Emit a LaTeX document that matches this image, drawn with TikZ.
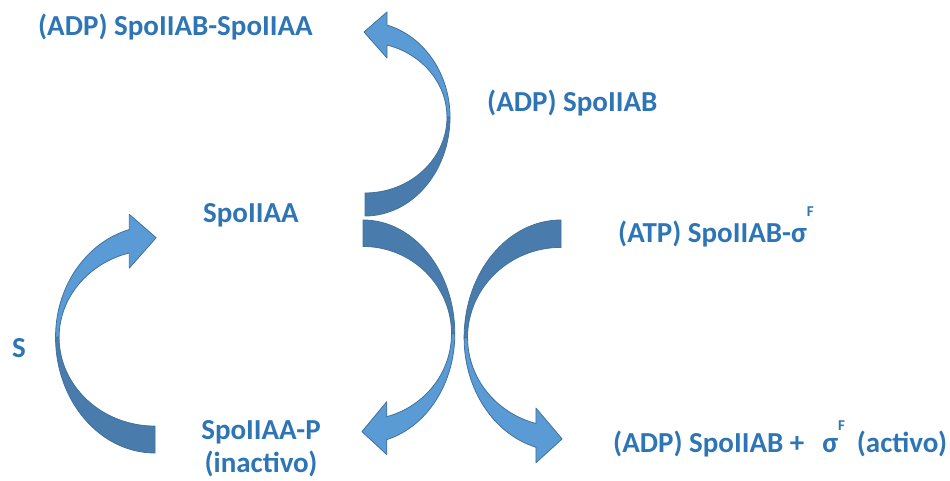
\documentclass[tikz,border=0pt]{standalone}
\usepackage{fontspec}
\setmainfont{Carlito}
\definecolor{txtblue}{HTML}{2E75B6}
\definecolor{lightblue}{HTML}{5B9BD5}
\definecolor{darkblue}{HTML}{497CAC}
\definecolor{edgeblue}{HTML}{41719C}
\newcommand\supF[1]{\raisebox{#1}{\fontsize{15}{15}\selectfont F}}
\newcommand\bentarrow[1]{%
  \begin{scope}[#1]
    \filldraw[backpart] (0,0) arc[start angle=-90,end angle=0,x radius=85,y radius=99]
      -- (82,99) arc[start angle=0,end angle=-90,x radius=82,y radius=76] -- cycle;
    \filldraw[frontpart] (85,99) arc[start angle=0,end angle=75,x radius=85,y radius=95.2]
      -- (22,204) -- (-1,184) -- (22,158) -- (22,171)
      arc[start angle=74.4,end angle=0,x radius=82,y radius=74.8] -- cycle;
  \end{scope}}
\begin{document}
\begin{tikzpicture}[x=1pt,y=1pt,
  lbl/.style={text=txtblue,font=\bfseries\fontsize{29}{33}\selectfont,inner sep=0pt},
  backpart/.style={fill=darkblue,draw=edgeblue,line width=0.8pt,line join=round},
  frontpart/.style={fill=lightblue,draw=edgeblue,line width=0.8pt,line join=round}]
  \useasboundingbox (0,0) rectangle (950,481);
  \bentarrow{shift={(365,265)}}
  \bentarrow{shift={(155,28)},xscale=-1.17,yscale=1.17}
  \bentarrow{shift={(363,261)},xscale=1.08,yscale=-1.15}
  \bentarrow{shift={(561,261)},xscale=-1.14,yscale=-1.19}
  \node[lbl,anchor=base west] (complexAA) at (38,445) {(ADP) SpoIIAB-SpoIIAA};
  \node[lbl,anchor=base west] (adpAB) at (487,369) {(ADP) SpoIIAB};
  \node[lbl,anchor=base west] (spoAA) at (203,258) {SpoIIAA};
  \node[lbl,anchor=base west] (atpAB) at (618,238) {(ATP) SpoIIAB-σ\supF{26pt}};
  \node[lbl,anchor=base west] (signal) at (12,123) {S};
  \node[lbl,anchor=base,align=center] (spoAAP) at (261,8) {SpoIIAA-P\\(inactivo)};
  \node[lbl,anchor=base west] (free) at (613,28) {(ADP) SpoIIAB +\hspace{18pt}σ\supF{22pt}\hspace{12pt}(activo)};
\end{tikzpicture}
\end{document}
